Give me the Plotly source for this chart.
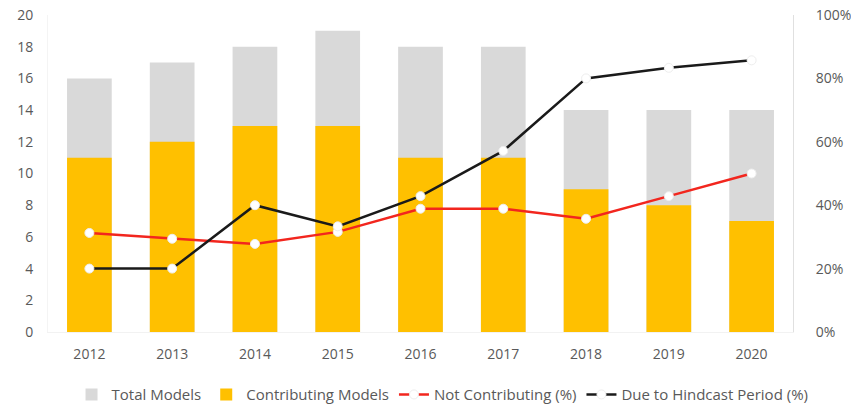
import plotly.graph_objects as go

years = ["2012", "2013", "2014", "2015", "2016", "2017", "2018", "2019", "2020"]
total_models = [16, 17, 18, 19, 18, 18, 14, 14, 14]
contributing_models = [11, 12, 13, 13, 11, 11, 9, 8, 7]
not_contributing_pct = [31.25, 29.41, 27.78, 31.58, 38.89, 38.89, 35.71, 42.86, 50.0]
hindcast_pct = [20.0, 20.0, 40.0, 33.33, 42.86, 57.14, 80.0, 83.33, 85.71]

FONT = "Open Sans"
TXT = "#595959"

fig = go.Figure()

fig.add_trace(go.Bar(
    x=years, y=total_models, name="Total Models",
    marker=dict(color="#D9D9D9", line=dict(width=0)), width=0.54,
))
fig.add_trace(go.Bar(
    x=years, y=contributing_models, name="Contributing Models",
    marker=dict(color="#FFC000", line=dict(width=0)), width=0.54,
))
fig.add_trace(go.Scatter(
    x=years, y=not_contributing_pct, name="Not Contributing (%)", yaxis="y2",
    mode="lines+markers",
    line=dict(color="#F2261E", width=2.5),
    marker=dict(color="white", size=9, line=dict(color="#EEEEEE", width=1)),
))
fig.add_trace(go.Scatter(
    x=years, y=hindcast_pct, name="Due to Hindcast Period (%)", yaxis="y2",
    mode="lines+markers",
    line=dict(color="#1A1A1A", width=2.5),
    marker=dict(color="white", size=9, line=dict(color="#EEEEEE", width=1)),
))

fig.update_layout(
    width=851, height=409,
    margin=dict(l=48, r=58, t=15, b=77, autoexpand=False),
    paper_bgcolor="white", plot_bgcolor="white",
    barmode="overlay",
    font=dict(family=FONT, size=13, color=TXT),
    showlegend=True,
    legend=dict(
        orientation="h", x=0.52, xanchor="center",
        xref="container", yref="container", y=0.035, yanchor="middle",
        font=dict(family=FONT, size=15, color=TXT),
        itemwidth=30, traceorder="normal",
    ),
    xaxis=dict(
        type="category", range=[-0.5, 8.5], automargin=False,
        showgrid=False, showline=True, linecolor="#F2F2F2", linewidth=1,
        ticks="", tickfont=dict(family=FONT, size=14, color=TXT),
        ticklabelstandoff=9,
    ),
    yaxis=dict(
        range=[0, 20], dtick=2, showgrid=False, automargin=False,
        showline=True, linecolor="#F4F4F4", linewidth=1,
        ticks="", zeroline=False,
        tickfont=dict(family=FONT, size=14, color=TXT), ticklabelstandoff=11,
    ),
    yaxis2=dict(
        range=[0, 100], dtick=20, overlaying="y", side="right", automargin=False,
        showgrid=False, showline=True, linecolor="#E0E0E0", linewidth=1,
        ticks="", zeroline=False, ticksuffix="%",
        tickfont=dict(family=FONT, size=14, color=TXT), ticklabelstandoff=19,
    ),
)

fig.write_html("out.html")
